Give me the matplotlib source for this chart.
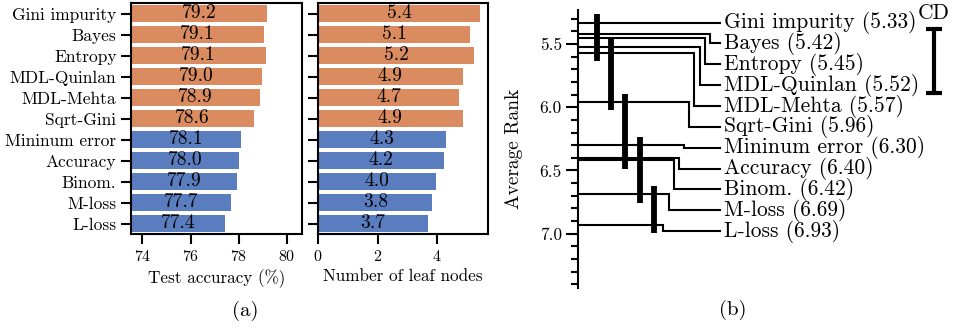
import numpy as np
import matplotlib
matplotlib.use("Agg")
import matplotlib.pyplot as plt
from matplotlib.ticker import MultipleLocator, FixedLocator

plt.rcParams['font.family'] = 'cmr10'
plt.rcParams['axes.formatter.use_mathtext'] = True

# data
methods = ['Gini impurity', 'Bayes', 'Entropy', 'MDL-Quinlan', 'MDL-Mehta', 'Sqrt-Gini',
           'Mininum error', 'Accuracy', 'Binom.', 'M-loss', 'L-loss']
accuracy = [79.18, 79.06, 79.11, 78.96, 78.88, 78.63, 78.09, 78.02, 77.94, 77.69, 77.44]
leaf_nodes = [5.44, 5.12, 5.24, 4.87, 4.74, 4.87, 4.31, 4.24, 3.98, 3.84, 3.68]
group = [0, 0, 0, 0, 0, 0, 1, 1, 1, 1, 1]
avg_rank = [5.33, 5.42, 5.45, 5.52, 5.57, 5.96, 6.30, 6.40, 6.42, 6.69, 6.93]
# cliques (first, last index) of methods not significantly different
cliques = [(0, 4), (3, 5), (5, 8), (6, 9), (9, 10)]
cd = 0.51

colors = ['#DA8B5F', '#597DBF']
bar_colors = [colors[g] for g in group]

W, H = 957, 328
fig = plt.figure(figsize=(W / 100, H / 100), dpi=100)

def px_axes(l, t, r, b):
  return fig.add_axes([l / W, 1 - b / H, (r - l) / W, (b - t) / H])

ax1 = px_axes(131, 3, 302, 234)
ax2 = px_axes(318, 3, 488, 234)
ax3 = px_axes(578.3, 10, 957, 288)

y = np.arange(len(methods))

# (a) left: test accuracy
acc_lo = 73.53
ax1.barh(y, accuracy, height=0.8, color=bar_colors)
ax1.set_xlim(acc_lo, 80.62)
for yi, v in zip(y, accuracy):
  ax1.text((acc_lo + v) / 2, yi, f'{v:.1f}', ha='center', va='center', fontsize=14)
ax1.set_yticks(y)
ax1.set_xticks([74, 76, 78, 80])
ax1.set_xlabel('Test accuracy (%)', fontsize=12.3)

# (a) right: leaf nodes
ax2.barh(y, leaf_nodes, height=0.8, color=bar_colors)
ax2.set_xlim(0, max(leaf_nodes) * 1.05)
for yi, v in zip(y, leaf_nodes):
  ax2.text(v / 2, yi, f'{v:.1f}', ha='center', va='center', fontsize=14)
ax2.set_yticks(y)
ax2.set_yticklabels([])
ax2.set_xticks([0, 2, 4])
ax2.set_xlabel('Number of leaf nodes', fontsize=12.3)

for ax in (ax1, ax2):
  ax.set_ylim(len(methods) - 0.5, -0.5)
  for s in ax.spines.values():
    s.set_linewidth(1.5)
  ax.tick_params(length=7, width=1.5, labelsize=11.5)
ax1.set_yticklabels(methods, fontsize=12.5)

# (b) critical difference diagram
n = len(methods)
label_y = np.linspace(avg_rank[0], avg_rank[0] + 0.165 * (n - 1), n)
elbow_x = 0.966 - 0.0366 * np.arange(n)
for i in range(n):
  ax3.plot([0, elbow_x[i], elbow_x[i], 1.0], [avg_rank[i], avg_rank[i], label_y[i], label_y[i]],
           color='black', lw=1.5, solid_joinstyle='miter')
  ax3.text(1.03, label_y[i], f'{methods[i]} ({avg_rank[i]:.2f})', ha='left', va='center',
           fontsize=15.5)

ext = 0.065
for k, (a, b) in enumerate(cliques):
  cx = 0.13 + 0.101 * k
  ax3.plot([cx, cx], [avg_rank[a] - ext, avg_rank[b] + ext], color='black', lw=4.2,
           solid_capstyle='butt')

# CD bar
cd_x, cd_top = 2.51, 5.379
ax3.plot([cd_x, cd_x], [cd_top, cd_top + cd], color='black', lw=3, solid_capstyle='butt')
for yy in (cd_top, cd_top + cd):
  ax3.plot([cd_x - 0.055, cd_x + 0.055], [yy, yy], color='black', lw=3, solid_capstyle='butt')
ax3.text(cd_x, cd_top - 0.05, 'CD', ha='center', va='bottom', fontsize=15.5)

ax3.set_xlim(0, (957 - 578.3) / 141.7)
ax3.set_ylim(7.43, 5.23)
for s in ('top', 'right', 'bottom'):
  ax3.spines[s].set_visible(False)
ax3.spines['left'].set_linewidth(1.5)
ax3.set_xticks([])
ax3.yaxis.set_major_locator(FixedLocator([5.5, 6.0, 6.5, 7.0]))
ax3.yaxis.set_minor_locator(MultipleLocator(0.1))
ax3.yaxis.set_major_formatter(matplotlib.ticker.FormatStrFormatter('%.1f'))
ax3.tick_params(axis='y', which='major', length=8.4, width=1.5, labelsize=12.5)
ax3.tick_params(axis='y', which='minor', length=4.8, width=1.5)
ax3.set_ylabel('Average Rank', fontsize=14)
ax3.yaxis.set_label_coords(-0.146, 0.5)

fig.text(245 / W, 1 - 311 / H, '(a)', ha='center', va='center', fontsize=15)
fig.text(733 / W, 1 - 310 / H, '(b)', ha='center', va='center', fontsize=15)

fig.savefig('out.png', dpi=100)
